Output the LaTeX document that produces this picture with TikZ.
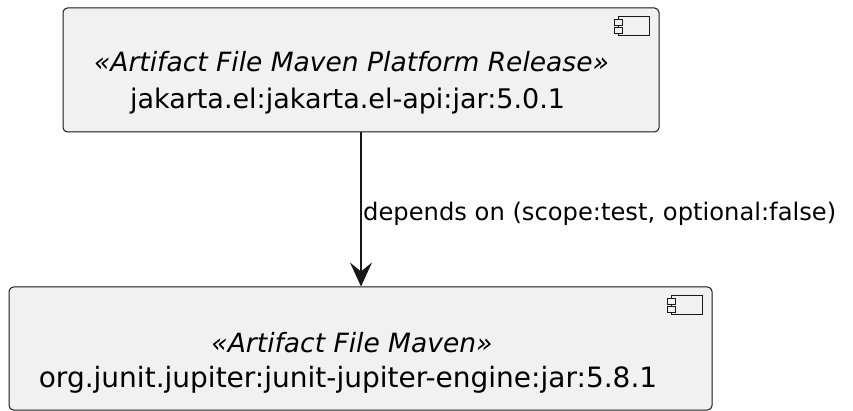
\documentclass[tikz,border=0pt]{standalone}
\usepackage{fontspec}
\setmainfont{DejaVu Sans}
\usetikzlibrary{arrows.meta}
\definecolor{boxfill}{HTML}{F1F1F1}
\definecolor{boxline}{HTML}{181818}
\tikzset{
  compbox/.style={draw=boxline, fill=boxfill, line width=1pt, rounded corners=4.5pt, inner sep=0pt},
  comptext/.style={font=\fontsize{27}{32}\selectfont, anchor=base, inner sep=0pt, text=black},
  stereotext/.style={comptext, font=\fontsize{26.5}{32}\selectfont\itshape},
  lbltext/.style={font=\fontsize{24.2}{29}\selectfont, anchor=base west, inner sep=0pt, text=black},
  deparrow/.style={draw=boxline, line width=1.5pt, -{Stealth[length=24pt, width=22pt, inset=9pt]}},
  iconline/.style={draw=boxline, line width=1pt, fill=boxfill},
  compicon/.pic={
    \draw[iconline] (-41,9) rectangle (-10,28);
    \draw[iconline] (-45,12) rectangle (-37,18);
    \draw[iconline] (-45,20) rectangle (-37,26);
  }
}
\begin{document}
\begin{tikzpicture}[x=1pt,y=-1pt]
\useasboundingbox (0,0) rectangle (853,411);
\fill[white] (0,0) rectangle (853,411);
\node[compbox, minimum width=596pt, minimum height=124pt] (top) at (361,70) {};
\pic at (top.north east) {compicon};
\node[stereotext] (topst) at (351.5,72) {«Artifact File Maven Platform Release»};
\node[comptext] (topnm) at (347.5,109) {jakarta.el:jakarta.el-api:jar:5.0.1};
\node[compbox, minimum width=703pt, minimum height=123pt] (bot) at (360.5,348.5) {};
\pic at (bot.north east) {compicon};
\node[stereotext] (botst) at (352,352) {«Artifact File Maven»};
\node[comptext, font=\fontsize{28}{32}\selectfont] (botnm) at (348,387) {org.junit.jupiter:junit-jupiter-engine:jar:5.8.1};
\draw[deparrow] (top.south) -- (top.south |- bot.north);
\node[lbltext] (lab) at (363,221) {depends on (scope:test, optional:false)};
\end{tikzpicture}
\end{document}
